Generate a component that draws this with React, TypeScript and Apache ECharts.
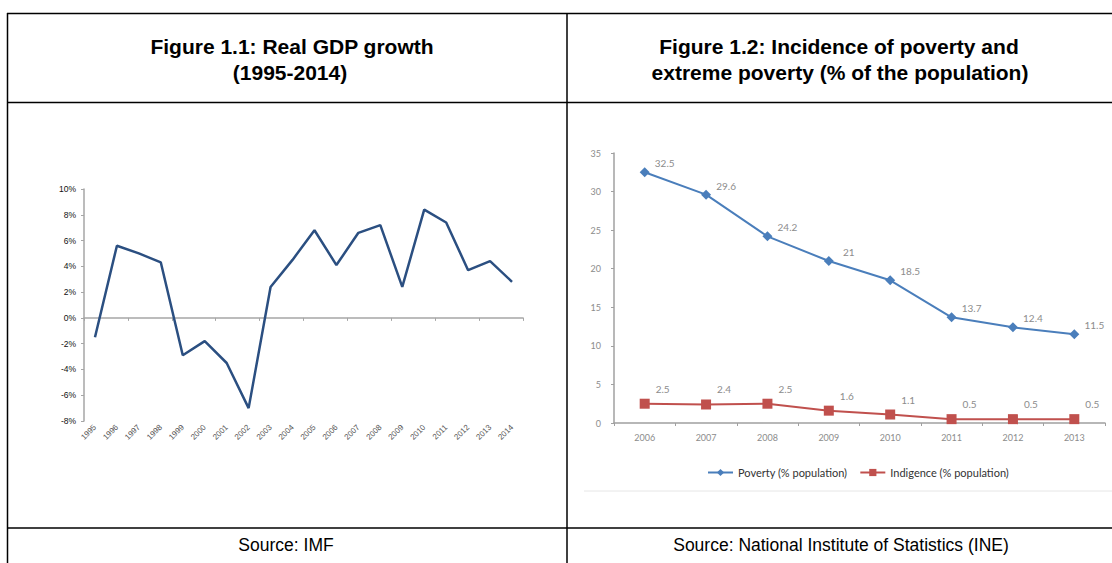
import React, { useEffect, useRef } from "react";
import * as echarts from "echarts";

const gdpYears = ["1995","1996","1997","1998","1999","2000","2001","2002","2003","2004","2005","2006","2007","2008","2009","2010","2011","2012","2013","2014"];
const gdpGrowth = [-1.5, 5.6, 5.0, 4.3, -2.9, -1.8, -3.5, -7.0, 2.4, 4.5, 6.8, 4.1, 6.6, 7.2, 2.4, 8.4, 7.4, 3.7, 4.4, 2.8];

const povYears = ["2006","2007","2008","2009","2010","2011","2012","2013"];
const poverty = [32.5, 29.6, 24.2, 21, 18.5, 13.7, 12.4, 11.5];
const indigence = [2.5, 2.4, 2.5, 1.6, 1.1, 0.5, 0.5, 0.5];

const leftTitle = ["Figure 1.1: Real GDP growth", "(1995-2014)"];
const rightTitle = ["Figure 1.2: Incidence of poverty and", "extreme poverty (% of the population)"];
const leftSource = "Source: IMF";
const rightSource = "Source: National Institute of Statistics (INE)";

export default function App() {
  const ref = useRef<HTMLDivElement>(null);
  useEffect(() => {
    if (!ref.current) return;
    const chart = echarts.init(ref.current, undefined, { renderer: "svg" });
    const border = { stroke: "#000", lineWidth: 1.5 };
    const titleFont = { fontFamily: "Liberation Sans, Arial, sans-serif", fontWeight: "bold", fontSize: 21, fill: "#000", textAlign: "center", textVerticalAlign: "middle" } as any;
    const srcFont = { fontFamily: "Liberation Sans, Arial, sans-serif", fontSize: 17.5, fill: "#000", textAlign: "center", textVerticalAlign: "middle" } as any;
    chart.setOption({
      animation: false,
      backgroundColor: "#fff",
      graphic: [
        { type: "line", shape: { x1: 7, y1: 13.5, x2: 1112, y2: 13.5 }, style: border },
        { type: "line", shape: { x1: 7.5, y1: 13, x2: 7.5, y2: 563 }, style: border },
        { type: "line", shape: { x1: 567, y1: 13, x2: 567, y2: 563 }, style: border },
        { type: "line", shape: { x1: 7, y1: 102.5, x2: 1112, y2: 102.5 }, style: border },
        { type: "line", shape: { x1: 7, y1: 528, x2: 1112, y2: 528 }, style: border },
        { type: "line", shape: { x1: 584, y1: 491, x2: 1112, y2: 491 }, style: { stroke: "#e6e6e6", lineWidth: 1 } },
        { type: "text", x: 292, y: 46, style: { ...titleFont, text: leftTitle[0] } },
        { type: "text", x: 290, y: 72, style: { ...titleFont, text: leftTitle[1] } },
        { type: "text", x: 839, y: 46, style: { ...titleFont, text: rightTitle[0] } },
        { type: "text", x: 840, y: 72, style: { ...titleFont, text: rightTitle[1] } },
        { type: "text", x: 286, y: 545, style: { ...srcFont, text: leftSource } },
        { type: "text", x: 841, y: 545, style: { ...srcFont, text: rightSource } },
      ],
      grid: [
        { left: 84, top: 189, width: 439, height: 232 },
        { left: 614, top: 153, width: 491, height: 270 },
      ],
      xAxis: [
        {
          type: "category", gridIndex: 0, data: gdpYears, boundaryGap: true, position: "bottom",
          axisLine: { onZero: true, lineStyle: { color: "#a6a6a6", width: 1.5 } },
          axisTick: { show: true, length: 3, lineStyle: { color: "#a6a6a6" } },
          axisLabel: { show: false },
        },
        {
          type: "category", gridIndex: 0, data: gdpYears, boundaryGap: true, position: "bottom",
          axisLine: { show: false }, axisTick: { show: false },
          axisLabel: { rotate: 45, fontSize: 8, color: "#555", margin: 5, fontFamily: "Liberation Sans, Arial, sans-serif", interval: 0 },
        },
        {
          type: "category", gridIndex: 1, data: povYears, boundaryGap: true,
          axisLine: { lineStyle: { color: "#a0a0a0", width: 1.5 } },
          axisTick: { show: true, length: 3, lineStyle: { color: "#a0a0a0" } },
          axisLabel: { fontSize: 9, color: "#8c8c8c", margin: 10, fontFamily: "Lato, sans-serif" },
        },
      ],
      yAxis: [
        {
          type: "value", gridIndex: 0, min: -8, max: 10, interval: 2,
          axisLine: { show: true, lineStyle: { color: "#a6a6a6", width: 1.5 } },
          axisTick: { show: true, length: 3, lineStyle: { color: "#a6a6a6" } },
          splitLine: { show: false },
          axisLabel: { formatter: (v: number) => v + "%", fontSize: 8.5, color: "#111", margin: 8, fontFamily: "Liberation Sans, Arial, sans-serif" },
        },
        {
          type: "value", gridIndex: 1, min: 0, max: 35, interval: 5,
          axisLine: { show: true, lineStyle: { color: "#a0a0a0", width: 1.5 } },
          axisTick: { show: true, length: 3, lineStyle: { color: "#a0a0a0" } },
          splitLine: { show: false },
          axisLabel: { fontSize: 9, color: "#8c8c8c", margin: 13, fontFamily: "Lato, sans-serif" },
        },
      ],
      legend: {
        data: ["Poverty (% population)", "Indigence (% population)"],
        left: 702, top: 462, itemWidth: 25, itemHeight: 9, itemGap: 12,
        textStyle: { fontSize: 11, color: "#333", fontFamily: "Lato, sans-serif" },
      },
      series: [
        {
          type: "line", name: "GDP growth", xAxisIndex: 0, yAxisIndex: 0, data: gdpGrowth,
          showSymbol: false, lineStyle: { color: "#2b4f81", width: 2.5 }, itemStyle: { color: "#2b4f81" },
        },
        {
          type: "line", name: "Poverty (% population)", xAxisIndex: 2, yAxisIndex: 1, data: poverty,
          symbol: "diamond", symbolSize: 10, lineStyle: { color: "#4a7ebb", width: 2 }, itemStyle: { color: "#4a7ebb" },
          label: { show: true, position: "inside", offset: [20, -9], fontSize: 10, color: "#8c8c8c", fontFamily: "Lato, sans-serif" },
        },
        {
          type: "line", name: "Indigence (% population)", xAxisIndex: 2, yAxisIndex: 1, data: indigence,
          symbol: "rect", symbolSize: 10, lineStyle: { color: "#c0504d", width: 2 }, itemStyle: { color: "#c0504d" },
          label: { show: true, position: "inside", offset: [18, -15], fontSize: 10, color: "#8c8c8c", fontFamily: "Lato, sans-serif" },
        },
      ],
    });
    return () => chart.dispose();
  }, []);
  return <div ref={ref} style={{ position: "fixed", left: 0, top: 0, width: 1112, height: 563 }} />;
}
